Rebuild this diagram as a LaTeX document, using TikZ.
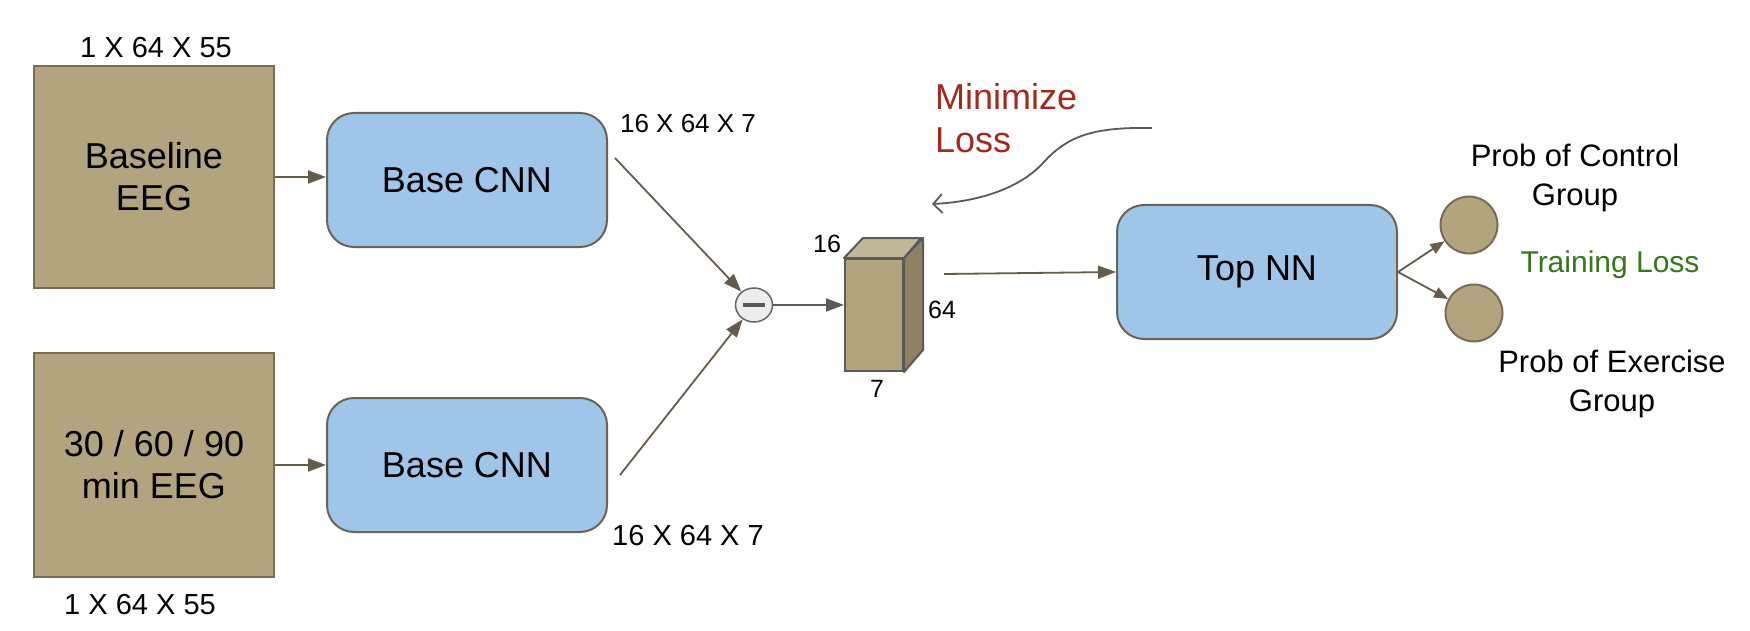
\documentclass[tikz,border=0pt]{standalone}
\usepackage{fontspec}
\setmainfont{Liberation Sans}
\usetikzlibrary{arrows.meta,shapes.geometric}
\definecolor{tan}{HTML}{B2A47E}
\definecolor{tantop}{HTML}{C3B799}
\definecolor{tanside}{HTML}{8F8264}
\definecolor{tanborder}{HTML}{7A6C52}
\definecolor{bluefill}{HTML}{9FC5E8}
\definecolor{boxborder}{HTML}{6B6353}
\definecolor{arrowcol}{HTML}{675C4B}
\definecolor{graycol}{HTML}{5A5A5A}
\definecolor{redtext}{HTML}{A6281C}
\definecolor{greentext}{HTML}{38761D}
\tikzset{
  eegbox/.style={draw=tanborder, fill=tan, line width=2pt, minimum width=240pt, inner sep=0pt, align=center, font=\fontsize{36}{42}\selectfont},
  netbox/.style={draw=boxborder, fill=bluefill, line width=2pt, rounded corners=27pt, minimum width=280pt, minimum height=134pt, inner sep=0pt, font=\fontsize{36}{42}\selectfont},
  probnode/.style={circle, draw=tanborder, fill=tan, line width=2pt, minimum size=57pt, inner sep=0pt},
  arr/.style={draw=arrowcol, line width=1.8pt, -{Triangle[length=18pt,width=13pt]}},
  dimlabel/.style={font=\fontsize{29}{34}\selectfont, inner sep=0pt},
  problabel/.style={font=\fontsize{31}{39}\selectfont, align=center, inner sep=0pt},
}
\begin{document}
\begin{tikzpicture}[x=1pt,y=-1pt]
\useasboundingbox (0,0) rectangle (1750,631);
\fill[white] (0,0) rectangle (1750,631);

% input boxes
\node[eegbox, minimum height=222pt] (b1) at (154,177) {Baseline\\EEG};
\node[eegbox, minimum height=224pt] (b2) at (154,465) {30 / 60 / 90\\min EEG};
\node[dimlabel] (l1) at (156,48) {1 X 64 X 55};
\node[dimlabel] (l2) at (140,605) {1 X 64 X 55};

% base CNNs
\node[netbox] (c1) at (467,180) {Base CNN};
\node[netbox] (c2) at (467,465) {Base CNN};
\node[dimlabel, font=\fontsize{26}{30}\selectfont] (l3) at (688,124) {16 X 64 X 7};
\node[dimlabel] (l4) at (688,536) {16 X 64 X 7};

\draw[arr] (b1.east |- 0,177) -- (c1.west |- 0,177);
\draw[arr] (b2.east) -- (c2.west |- b2.east);

% minus node
\node[ellipse, draw=gray!80!black, fill=black!7, line width=1.5pt, minimum width=37pt, minimum height=34pt, inner sep=0pt] (minus) at (754,305) {};
\draw[graycol, line width=4pt] ([xshift=-11pt]minus.center) -- ([xshift=11pt]minus.center);

\coordinate (s1) at (615,158);
\coordinate (s2) at (620,475);
\draw[arr] (s1) -- (minus);
\draw[arr] (s2) -- (minus);

% cube
\node[draw=graycol, fill=tan, line width=2pt, minimum width=58pt, minimum height=112pt, inner sep=0pt] (cube) at (874,315) {};
\draw[draw=graycol, fill=tantop, line width=2pt, line join=round] (cube.north west) -- ++(19,-20) -- ++(58,0) -- (cube.north east) -- cycle;
\draw[draw=graycol, fill=tanside, line width=2pt, line join=round] (cube.north east) -- ++(19,-20) -- ++(0,112) -- (cube.south east) -- cycle;
\node[font=\fontsize{25}{30}\selectfont, inner sep=0pt] (d16) at (827,244) {16};
\node[font=\fontsize{25}{30}\selectfont, inner sep=0pt] (d64) at (942,310) {64};
\node[font=\fontsize{25}{30}\selectfont, inner sep=0pt] (d7) at (877,389) {7};

\draw[draw=graycol, line width=1.8pt, -{Triangle[length=18pt,width=13pt]}] (minus.east) -- (cube.west |- minus.east);

% top NN
\node[netbox] (top) at (1257,272) {Top NN};
\coordinate (s3) at (944,274);
\draw[arr] (s3) -- (top.west);

% outputs
\node[probnode] (p1) at (1469,225) {};
\node[probnode] (p2) at (1474,313) {};
\draw[arr, -{Triangle[length=14pt,width=11pt]}] (top.east) -- (p1);
\draw[arr, -{Triangle[length=14pt,width=11pt]}] (top.east) -- (p2);
\node[problabel] (t1) at (1575,178) {Prob of Control\\Group};
\node[problabel] (t2) at (1612,384) {Prob of Exercise\\Group};
\node[font=\fontsize{30}{36}\selectfont, text=greentext, inner sep=0pt] (tl) at (1610,265) {Training Loss};

% minimize loss
\node[font=\fontsize{36}{43}\selectfont, text=redtext, align=left, anchor=west, inner sep=0pt] (ml) at (935,118.5) {Minimize\\Loss};
\coordinate (cs) at (1152,128);
\coordinate (cm) at (1043,163);
\coordinate (ce) at (932,204);
\draw[graycol, line width=1.8pt, -{Straight Barb[length=9pt,width=19pt]}] (cs) .. controls (1095,127) and (1068,135) .. (cm) .. controls (1018,190) and (975,202) .. (ce);
\end{tikzpicture}
\end{document}
